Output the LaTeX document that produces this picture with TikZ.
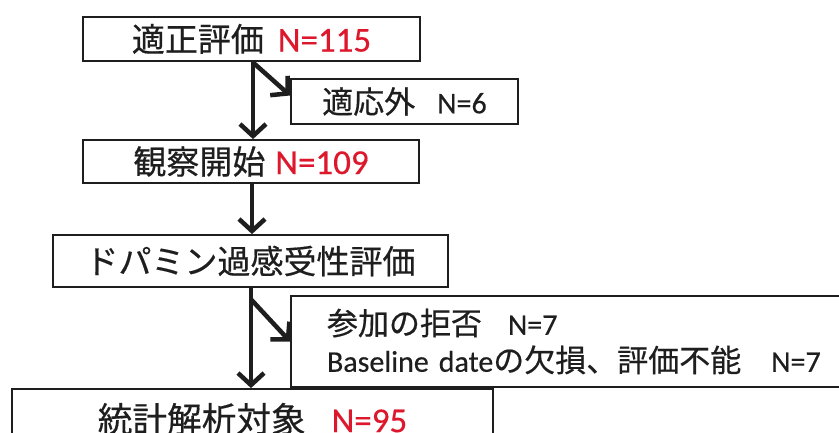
\documentclass[tikz,border=0pt]{standalone}
\usepackage{fontspec}
\setmainfont[FakeBold=0.4,AutoFakeBold=0.4]{Carlito}
\newfontfamily\jpa[Scale=0.943,FakeBold=0.5]{Noto Sans CJK JP}
\newfontfamily\jpb[Scale=1.033,FakeBold=0.5]{Noto Sans CJK JP}
\newfontfamily\jpc[Scale=0.99,FakeBold=0.5]{Noto Sans CJK JP}
\usetikzlibrary{arrows.meta,calc}
\definecolor{nred}{RGB}{222,24,44}
\definecolor{ink}{RGB}{30,30,30}
\begin{document}
\begin{tikzpicture}[x=1pt,y=-1pt,
  box/.style={draw=ink,line width=1.8pt,rectangle,inner sep=0pt,text=ink,fill=white},
  big/.style={font=\fontsize{35}{36}\selectfont},
  small/.style={font=\fontsize{30}{37}\selectfont},
  arr/.style={draw=ink,line width=4.5pt,-{Straight Barb[length=12pt,width=26pt,line width=4.5pt]}}]
\clip (0,0) rectangle (839,433);
\fill[white] (0,0) rectangle (839,433);
\node[box,big,minimum width=337pt,minimum height=44pt] (b1) at (251.5,39) {{\jpa 適正評価}\hspace{14pt}\textcolor{nred}{N=115}};
\node[box,small,minimum width=227pt,minimum height=45pt] (b2) at (404.5,101.5) {{\jpb 適応外}\hspace{22pt}N=6};
\node[box,big,minimum width=336pt,minimum height=43pt] (b3) at (251,161.5) {{\jpa 観察開始}\hspace{10pt}\textcolor{nred}{N=109}};
\node[box,big,minimum width=395pt,minimum height=52pt] (b4) at (250.5,261) {{\jpa ドパミン過感受性評価}};
\node[box,small,text width=537pt,align=left,inner xsep=36pt,minimum height=91pt] (b5) at (595.5,341.5) {{\jpb 参加の拒否}\hspace{26pt}N=7\\Baseline date{\jpb の欠損、評価不能}\hspace{30pt}N=7};
\node[box,big,minimum width=481pt,minimum height=60pt] (b6) at (252.5,419) {\raisebox{2pt}{{\jpc 統計解析対象}\hspace{26pt}\textcolor{nred}{N=95}}};
\draw[arr] ($(b1.south)+(1.5,0)$) -- ($(b3.north)+(2,0)$);
\draw[arr] ($(b1.south)+(2,1)$) -- ($(b2.west)+(0,-6)$);
\draw[arr] ($(b3.south)+(1,0)$) -- ($(b4.north)+(1.5,0)$);
\draw[arr] ($(b4.south)+(0.5,0)$) -- ($(b6.north)+(-1.5,0)$);
\draw[arr] ($(b4.south)+(1,12)$) -- (b5.west);
\end{tikzpicture}
\end{document}
